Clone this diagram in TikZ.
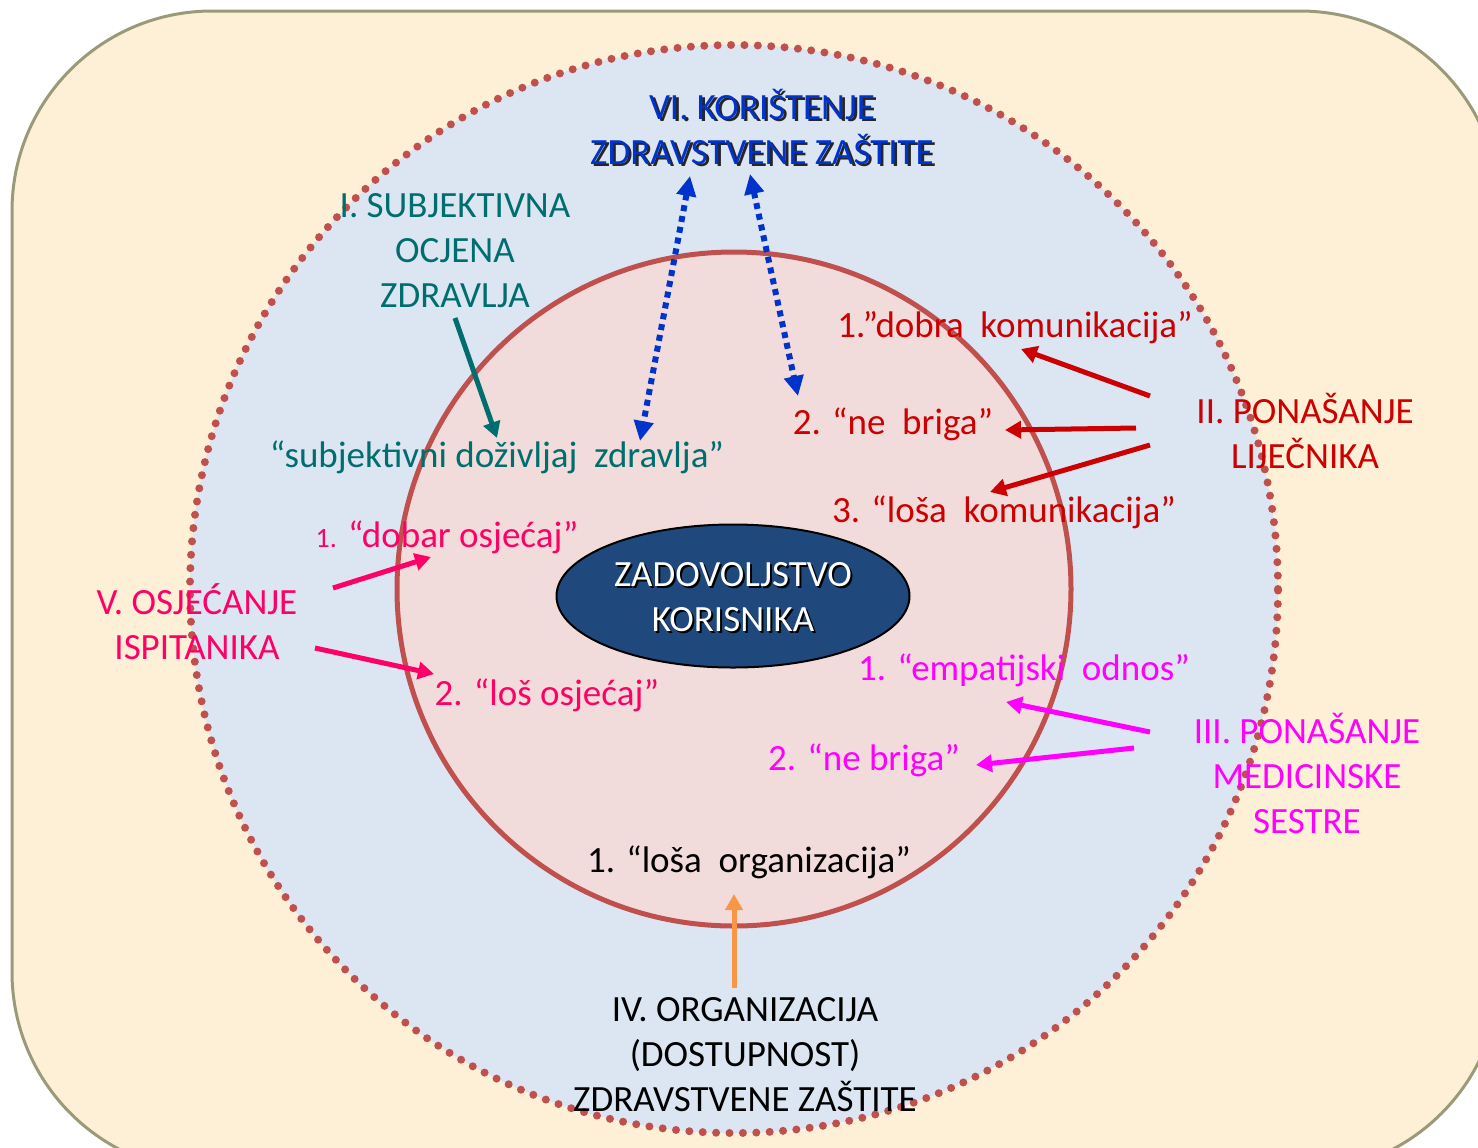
\documentclass[tikz,border=0pt]{standalone}
\usepackage{fontspec}
\setmainfont{Carlito}
\usetikzlibrary{arrows.meta,shapes.geometric}
\definecolor{paper}{HTML}{FDF0D6}
\definecolor{frameline}{HTML}{9A9A7A}
\definecolor{skyfill}{HTML}{DCE6F2}
\definecolor{rosefill}{HTML}{F2DCDB}
\definecolor{brick}{HTML}{C0504D}
\definecolor{navy}{HTML}{1F497D}
\definecolor{royal}{HTML}{0033CC}
\definecolor{tealtxt}{HTML}{006E6E}
\definecolor{crimson}{HTML}{CC0000}
\definecolor{pinktxt}{HTML}{FF0066}
\definecolor{magtxt}{HTML}{FF00FF}
\definecolor{orangearr}{HTML}{F79646}
% text with a drop shadow: #1 text, #2 shadow colour, #3 offset
\newcommand{\shd}[3]{\leavevmode\rlap{\hspace{#3}\raisebox{-#3}{\color{#2}#1}}#1}
\begin{document}
\begin{tikzpicture}[x=0.5pt,y=-0.5pt,
  lbl/.style={inner sep=0pt, align=center, font=\fontsize{18.5}{22.5}\selectfont},
  arr/.style={line width=2.5pt, -{Triangle[length=8pt,width=8.5pt]}},
  dotarr/.style={royal, line width=3pt, dash pattern=on 3pt off 2.5pt,
    {Triangle[length=10pt,width=9.5pt]}-{Triangle[length=10pt,width=9.5pt]}}]
\useasboundingbox (0,0) rectangle (1478,1147);
\clip (0,0) rectangle (1478,1147);
% background panel
\draw[fill=paper, draw=frameline, line width=1.5pt, rounded corners=100pt] (12,11) rectangle (1500,1172);
% outer circle with dotted rim
\fill[skyfill] (734,589) circle[radius=272pt];
\draw[brick, line width=4pt, line cap=round, dash pattern=on 0pt off 6.7pt] (734,589) circle[radius=272pt];
% inner circle
\draw[brick, fill=rosefill, line width=2.5pt] (734,589) circle[radius=168.5pt];
% core ellipse
\node[ellipse, draw=black, line width=1pt, fill=navy, minimum width=176.5pt, minimum height=71.5pt, inner sep=0pt] (core) at (733,596) {};
\node[lbl, text=white] (coretxt) at (733,598) {\shd{ZADOVOLJSTVO}{black}{1pt}\\\shd{KORISNIKA}{black}{1pt}};

% VI
\node[lbl, text=royal] (use) at (762,128) {\shd{VI. KORIŠTENJE}{black!85}{1.3pt}\\\shd{ZDRAVSTVENE ZAŠTITE}{black!85}{1.3pt}};
% I
\node[lbl, text=tealtxt] (subj) at (455,251) {I. SUBJEKTIVNA\\OCJENA\\ZDRAVLJA};
\node[lbl, text=tealtxt] (exp) at (497,457) {“subjektivni doživljaj\ \ zdravlja”};
% II
\node[lbl, text=crimson] (doc) at (1305,431) {II. PONAŠANJE\\LIJEČNIKA};
\node[lbl, text=crimson] (d1) at (1015,328) {1.”dobra\ \ komunikacija”};
\node[lbl, text=crimson] (d2) at (893,424) {2. “ne\ \ briga”};
\node[lbl, text=crimson] (d3) at (1004,512) {3. “loša\ \ komunikacija”};
% III
\node[lbl, text=magtxt] (nurse) at (1307,773) {III. PONAŠANJE\\MEDICINSKE\\SESTRE};
\node[lbl, text=magtxt] (n1) at (1024,670) {1. “empatijski\ \ odnos”};
\node[lbl, text=magtxt] (n2) at (864,760) {2. “ne briga”};
% IV
\node[lbl, text=black] (org) at (745,1055) {IV. ORGANIZACIJA\\(DOSTUPNOST)\\ZDRAVSTVENE ZAŠTITE};
\node[lbl, text=black] (o1) at (749,862) {1. “loša\ \ organizacija”};
% V
\node[lbl, text=pinktxt] (feel) at (197,622) {V. OSJEĆANJE\\ISPITANIKA};
\node[lbl, text=pinktxt] (f1) at (447,537) {{\fontsize{14}{16}\selectfont 1.} “dobar osjećaj”};
\node[lbl, text=pinktxt] (f2) at (547,695) {2. “loš osjećaj”};

% connector end points
\coordinate (subjA) at (455,318); \coordinate (subjB) at (497,438);
\coordinate (useL) at (690,176); \coordinate (useLb) at (640,441);
\coordinate (useR) at (750,174); \coordinate (useRb) at (798,396);
\coordinate (docA) at (1150,396); \coordinate (docA2) at (1021,349);
\coordinate (docB) at (1136,428); \coordinate (docB2) at (1005,430);
\coordinate (docC) at (1150,445); \coordinate (docC2) at (990,492);
\coordinate (nurA) at (1150,732); \coordinate (nurA2) at (1006,702);
\coordinate (nurB) at (1134,748); \coordinate (nurB2) at (976,765);
\coordinate (orgA) at (734,988); \coordinate (orgA2) at (734,894);
\coordinate (feelA) at (333,588); \coordinate (feelA2) at (431,557);
\coordinate (feelB) at (315,648); \coordinate (feelB2) at (434,674);

\draw[arr, tealtxt] (subjA) -- (subjB);
\draw[dotarr] (useL) -- (useLb);
\draw[dotarr] (useR) -- (useRb);
\draw[arr, crimson] (docA) -- (docA2);
\draw[arr, crimson] (docB) -- (docB2);
\draw[arr, crimson] (docC) -- (docC2);
\draw[arr, magtxt] (nurA) -- (nurA2);
\draw[arr, magtxt] (nurB) -- (nurB2);
\draw[arr, orangearr] (orgA) -- (orgA2);
\draw[arr, pinktxt] (feelA) -- (feelA2);
\draw[arr, pinktxt] (feelB) -- (feelB2);
\end{tikzpicture}
\end{document}
